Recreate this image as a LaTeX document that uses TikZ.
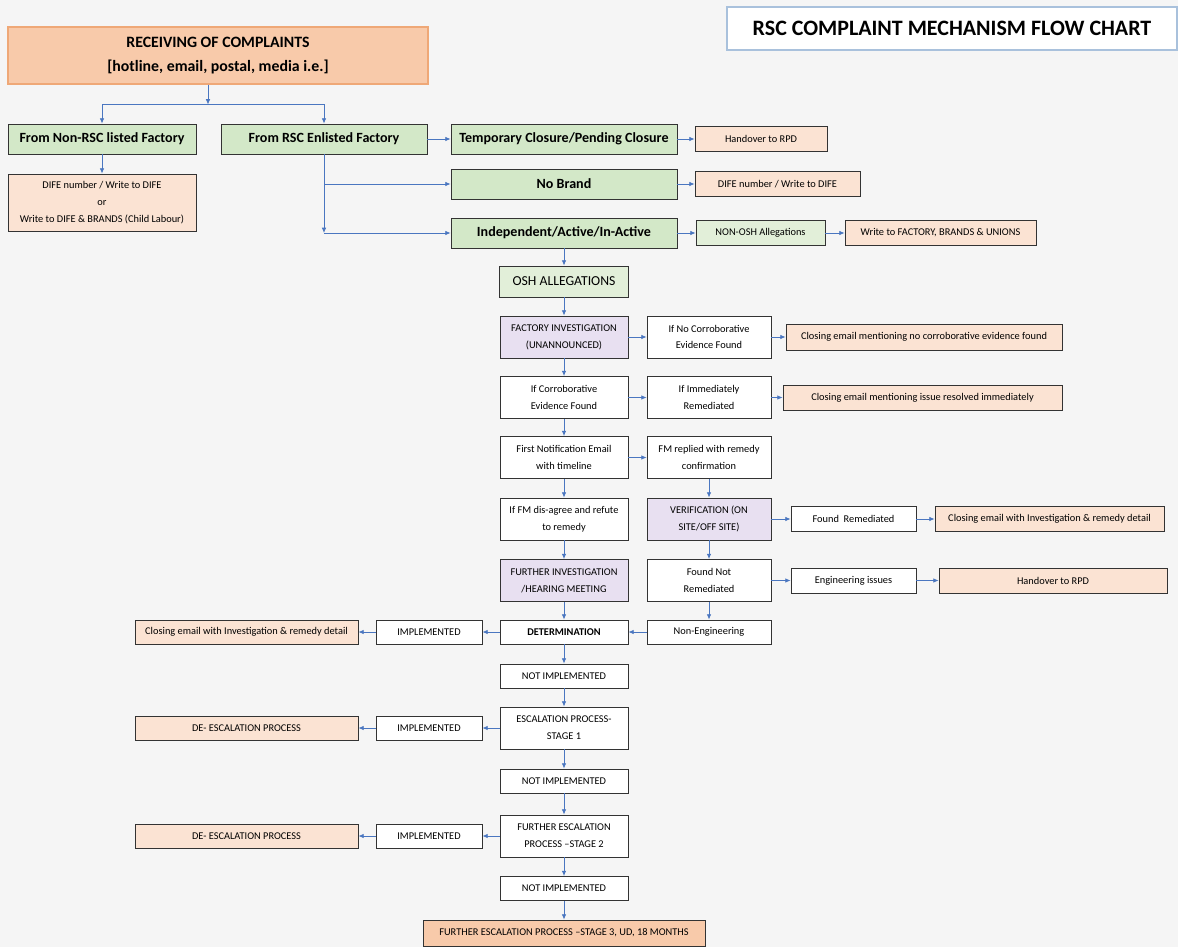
\documentclass[tikz,border=0pt]{standalone}
\usepackage{fontspec}
\setmainfont{Carlito}
\usepackage{tikz}
\usetikzlibrary{positioning}
\usetikzlibrary{arrows.meta}

\definecolor{bgcol}{HTML}{F5F5F5}
\definecolor{greenfill}{HTML}{D3E8C8}
\definecolor{palegreen}{HTML}{E2EFD9}
\definecolor{peach}{HTML}{FBE3D3}
\definecolor{orangefill}{HTML}{F8CAAA}
\definecolor{orangeline}{HTML}{EFA877}
\definecolor{lilac}{HTML}{E8E0F1}
\definecolor{arrowblue}{HTML}{4A76C0}
\definecolor{titleline}{HTML}{A9C1DC}

\newcommand{\smalltxt}{\fontsize{5.9}{9.6}\selectfont}
\newcommand{\bigtxt}{\fontsize{8}{10}\selectfont\bfseries}

\tikzset{
  box/.style={draw=black!80, line width=0.5pt, align=center, inner sep=1pt, font=\smalltxt},
  greenbox/.style={box, fill=greenfill, font=\bigtxt, minimum height=0.6cm},
  okbox/.style={box, fill=palegreen},
  plainbox/.style={box, fill=white},
  lilacbox/.style={box, fill=lilac},
  peachbox/.style={box, fill=peach},
  cell/.style={minimum width=2.56cm, minimum height=0.84cm},
  cell2/.style={minimum width=2.48cm, minimum height=0.84cm},
  slim/.style={minimum width=2.56cm, minimum height=0.48cm},
  slim2/.style={minimum width=2.48cm, minimum height=0.48cm},
  flowarrow/.style={-{Latex[length=3pt,width=2.6pt]}, arrowblue, line width=0.45pt},
}

\begin{document}
\begin{tikzpicture}
    \fill[bgcol] (0,0) rectangle (23.56,-18.94);
    \useasboundingbox (0,0) rectangle (23.56,-18.94);

    \node[draw=titleline, fill=white, line width=0.6pt, minimum width=9cm, minimum height=0.86cm, font=\fontsize{12.5}{14}\selectfont\bfseries] (title) at (19.04,-0.57) {RSC COMPLAINT MECHANISM FLOW CHART};
    \node[draw=orangeline, fill=orangefill, line width=0.6pt, minimum width=8.4cm, minimum height=1.14cm, align=center, font=\fontsize{9}{14}\selectfont\bfseries] (recv) at (4.36,-1.11) {RECEIVING OF COMPLAINTS\\{}[hotline, email, postal, media i.e.]};

    % first split
    \node[greenbox, minimum width=4.12cm] (rsc) at (6.48,-2.78) {From RSC Enlisted Factory};
    \node[greenbox, left of=rsc, node distance=4.44cm, minimum width=3.76cm] (nonrsc) {From Non-RSC listed Factory};
    \node[peachbox, below of=nonrsc, node distance=1.27cm, minimum width=3.76cm, minimum height=1.14cm, font=\fontsize{5.9}{9.6}\selectfont] (dife1) {DIFE number / Write to DIFE\\or\\Write to DIFE \& BRANDS (Child Labour)};

    % enlisted factory branches
    \node[greenbox, right of=rsc, node distance=4.8cm, minimum width=4.52cm] (temp) {Temporary Closure/Pending Closure};
    \node[peachbox, right of=temp, node distance=3.94cm, minimum width=2.64cm, minimum height=0.5cm] (rpd1) {Handover to RPD};
    \node[greenbox, below of=temp, node distance=0.9cm, minimum width=4.52cm] (nobrand) {No Brand};
    \node[peachbox, right of=nobrand, node distance=4.27cm, minimum width=3.3cm, minimum height=0.5cm] (dife2) {DIFE number / Write to DIFE};
    \node[greenbox, below of=nobrand, node distance=0.98cm, minimum width=4.52cm] (indep) {Independent/Active/In-Active};
    \node[okbox, right of=indep, node distance=3.93cm, minimum width=2.58cm, minimum height=0.5cm] (nonosh) {NON-OSH Allegations};
    \node[peachbox, right of=nonosh, node distance=3.6cm, minimum width=3.82cm, minimum height=0.5cm] (unions) {Write to FACTORY, BRANDS \& UNIONS};
    \node[okbox, below of=indep, node distance=0.97cm, minimum width=2.58cm, minimum height=0.62cm, font=\fontsize{7.8}{9}\selectfont] (osh) {OSH ALLEGATIONS};

    % investigation
    \node[lilacbox, cell, below of=osh, node distance=1.11cm] (factinv) {FACTORY INVESTIGATION\\(UNANNOUNCED)};
    \node[plainbox, cell2, right of=factinv, node distance=2.9cm] (nocorr) {If No Corroborative\\Evidence Found};
    \node[peachbox, right of=nocorr, node distance=4.3cm, minimum width=5.52cm, minimum height=0.52cm] (close1) {Closing email mentioning no corroborative evidence found};
    \node[plainbox, cell, below of=factinv, node distance=1.21cm] (corr) {If Corroborative\\Evidence Found};
    \node[plainbox, cell2, right of=corr, node distance=2.9cm] (immed) {If Immediately\\Remediated};
    \node[peachbox, right of=immed, node distance=4.27cm, minimum width=5.58cm, minimum height=0.5cm] (close2) {Closing email mentioning issue resolved immediately};
    \node[plainbox, cell, below of=corr, node distance=1.2cm] (firstmail) {First Notification Email\\with timeline};
    \node[plainbox, cell2, right of=firstmail, node distance=2.9cm] (fmreply) {FM replied with remedy\\confirmation};
    \node[plainbox, cell, below of=firstmail, node distance=1.23cm] (refute) {If FM dis-agree and refute\\to remedy};
    \node[lilacbox, cell2, right of=refute, node distance=2.9cm] (verify) {VERIFICATION (ON\\SITE/OFF SITE)};
    \node[plainbox, right of=verify, node distance=2.89cm, minimum width=2.5cm, minimum height=0.5cm] (foundrem) {Found\ \ Remediated};
    \node[peachbox, right of=foundrem, node distance=3.92cm, minimum width=4.58cm, minimum height=0.5cm] (close3) {Closing email with Investigation \& remedy detail};
    \node[lilacbox, cell, below of=refute, node distance=1.23cm] (hearing) {FURTHER INVESTIGATION\\/HEARING MEETING};
    \node[plainbox, cell2, right of=hearing, node distance=2.9cm] (notrem) {Found Not\\Remediated};
    \node[plainbox, right of=notrem, node distance=2.89cm, minimum width=2.5cm, minimum height=0.5cm] (engg) {Engineering issues};
    \node[peachbox, right of=engg, node distance=3.99cm, minimum width=4.56cm, minimum height=0.5cm] (rpd2) {Handover to RPD};

    % determination and escalation
    \node[plainbox, slim, below of=hearing, node distance=1.03cm, font=\smalltxt\bfseries] (determ) {DETERMINATION};
    \node[plainbox, slim2, right of=determ, node distance=2.9cm] (noneng) {Non-Engineering};
    \node[plainbox, left of=determ, node distance=2.7cm, minimum width=2.12cm, minimum height=0.48cm] (impl1) {IMPLEMENTED};
    \node[peachbox, left of=impl1, node distance=3.65cm, minimum width=4.46cm, minimum height=0.48cm] (close4) {Closing email with Investigation \& remedy detail};
    \node[plainbox, slim, below of=determ, node distance=0.88cm] (notimp1) {NOT IMPLEMENTED};
    \node[plainbox, cell, below of=notimp1, node distance=1.04cm] (stage1) {ESCALATION PROCESS-\\STAGE 1};
    \node[plainbox, left of=stage1, node distance=2.7cm, minimum width=2.12cm, minimum height=0.48cm] (impl2) {IMPLEMENTED};
    \node[peachbox, left of=impl2, node distance=3.65cm, minimum width=4.46cm, minimum height=0.48cm] (deesc1) {DE- ESCALATION PROCESS};
    \node[plainbox, slim, below of=stage1, node distance=1.06cm] (notimp2) {NOT IMPLEMENTED};
    \node[plainbox, cell, below of=notimp2, node distance=1.1cm] (stage2) {FURTHER ESCALATION\\PROCESS --STAGE 2};
    \node[plainbox, left of=stage2, node distance=2.7cm, minimum width=2.12cm, minimum height=0.48cm] (impl3) {IMPLEMENTED};
    \node[peachbox, left of=impl3, node distance=3.65cm, minimum width=4.46cm, minimum height=0.48cm] (deesc2) {DE- ESCALATION PROCESS};
    \node[plainbox, slim, below of=stage2, node distance=1.05cm] (notimp3) {NOT IMPLEMENTED};
    \node[box, fill=orangefill, below of=notimp3, node distance=0.89cm, minimum width=5.64cm, minimum height=0.52cm] (stage3) {FURTHER ESCALATION PROCESS --STAGE 3, UD, 18 MONTHS};

    % connectors
    \coordinate (split) at (4.16,-2.09);
    \coordinate (tap) at (rsc.south |- nobrand.west);
    \coordinate (bend) at (rsc.south |- indep.west);
    \draw[flowarrow] ([xshift=-0.2cm]recv.south) -- (split);
    \draw[flowarrow] (split) -| (nonrsc.north);
    \draw[flowarrow] (split) -| (rsc.north);
    \draw[flowarrow] (nonrsc) -- (dife1);
    \draw[flowarrow] (rsc) -- (temp);
    \draw[flowarrow] (rsc.south) -- (bend);
    \draw[flowarrow] (tap) -- (nobrand.west);
    \draw[flowarrow] (bend) -- (indep.west);
    \draw[flowarrow] (temp) -- (rpd1);
    \draw[flowarrow] (nobrand) -- (dife2);
    \draw[flowarrow] (indep) -- (nonosh);
    \draw[flowarrow] (nonosh) -- (unions);
    \draw[flowarrow] (indep) -- (osh);
    \draw[flowarrow] (osh) -- (factinv);
    \draw[flowarrow] (factinv) -- (nocorr);
    \draw[flowarrow] (nocorr) -- (close1);
    \draw[flowarrow] (factinv) -- (corr);
    \draw[flowarrow] (corr) -- (immed);
    \draw[flowarrow] (immed) -- (close2);
    \draw[flowarrow] (corr) -- (firstmail);
    \draw[flowarrow] (firstmail) -- (fmreply);
    \draw[flowarrow] (fmreply) -- (verify);
    \draw[flowarrow] (firstmail) -- (refute);
    \draw[flowarrow] (refute) -- (hearing);
    \draw[flowarrow] (verify) -- (foundrem);
    \draw[flowarrow] (foundrem) -- (close3);
    \draw[flowarrow] (verify) -- (notrem);
    \draw[flowarrow] (notrem) -- (engg);
    \draw[flowarrow] (engg) -- (rpd2);
    \draw[flowarrow] (notrem) -- (noneng);
    \draw[flowarrow] (noneng) -- (determ);
    \draw[flowarrow] (hearing) -- (determ);
    \draw[flowarrow] (determ) -- (impl1);
    \draw[flowarrow] (impl1) -- (close4);
    \draw[flowarrow] (determ) -- (notimp1);
    \draw[flowarrow] (notimp1) -- (stage1);
    \draw[flowarrow] (stage1) -- (impl2);
    \draw[flowarrow] (impl2) -- (deesc1);
    \draw[flowarrow] (stage1) -- (notimp2);
    \draw[flowarrow] (notimp2) -- (stage2);
    \draw[flowarrow] (stage2) -- (impl3);
    \draw[flowarrow] (impl3) -- (deesc2);
    \draw[flowarrow] (stage2) -- (notimp3);
    \draw[flowarrow] (notimp3) -- (stage3);
\end{tikzpicture}
\end{document}
